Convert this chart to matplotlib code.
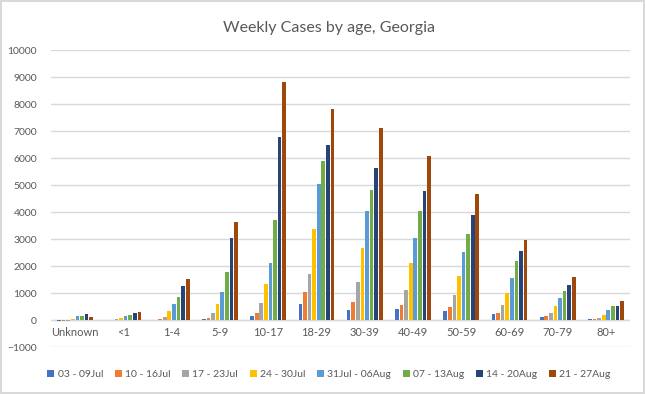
import numpy as np
import matplotlib.pyplot as plt

plt.rcParams['font.family'] = ['Lato', 'DejaVu Sans']

# age groups and weekly series
ages = ['Unknown', '<1', '1-4', '5-9', '10-17', '18-29', '30-39', '40-49', '50-59', '60-69', '70-79', '80+']
weeks = ['03 - 09Jul', '10 - 16Jul', '17 - 23Jul', '24 - 30Jul',
         '31Jul - 06Aug', '07 - 13Aug', '14 - 20Aug', '21 - 27Aug']

wk1 = [-50, 5, 10, 40, 150, 590, 370, 410, 330, 235, 120, 50]
wk2 = [-50, 10, 40, 70, 260, 1040, 670, 560, 480, 270, 160, 50]
wk3 = [-40, 40, 110, 260, 630, 1700, 1410, 1110, 930, 570, 270, 90]
wk4 = [40, 75, 330, 590, 1330, 3370, 2670, 2110, 1630, 1010, 530, 200]
wk5 = [150, 150, 590, 1040, 2110, 5040, 4040, 3040, 2530, 1570, 830, 380]
wk6 = [150, 185, 850, 1780, 3700, 5890, 4810, 4040, 3200, 2200, 1090, 530]
wk7 = [220, 260, 1260, 3040, 6780, 6480, 5630, 4780, 3900, 2570, 1310, 530]
wk8 = [110, 300, 1520, 3630, 8810, 7810, 7110, 6070, 4680, 2975, 1600, 720]

series = [wk1, wk2, wk3, wk4, wk5, wk6, wk7, wk8]
colors = ['#4472C4', '#ED7D31', '#A5A5A5', '#FFC000',
          '#5B9BD5', '#70AD47', '#264478', '#9E480E']

fig = plt.figure(figsize=(6.45, 3.94), dpi=100)
fig.patch.set_edgecolor('#D9D9D9')
fig.patch.set_linewidth(1.5)
ax = fig.add_axes([0.079, 0.119, 0.898, 0.754])

x = np.arange(len(ages))
slot = 0.095
for i, vals in enumerate(series):
    ax.bar(x + (i - 3.5) * slot, vals, width=0.076, color=colors[i],
           label=weeks[i], zorder=3)

ax.set_ylim(-1000, 10000)
ax.set_yticks(range(-1000, 10001, 1000))
ax.set_xlim(-0.5, len(ages) - 0.5)
ax.grid(axis='y', color='#D9D9D9', linewidth=1, zorder=0)
ax.axhline(0, color='#D9D9D9', linewidth=1, zorder=2)
for s in ax.spines.values():
    s.set_visible(False)
ax.tick_params(axis='y', length=0, labelsize=7.5, labelcolor='#595959', pad=10)
ax.set_xticks([])
for xi, lab in zip(x, ages):
    ax.text(xi, -250, lab, ha='center', va='top', fontsize=8, color='#595959')

fig.text(0.51, 0.93, 'Weekly Cases by age, Georgia', ha='center', va='center',
         fontsize=11.5, color='#595959')
fig.legend(loc='center', bbox_to_anchor=(0.51, 0.05), ncol=8, frameon=False,
           fontsize=7.5, handlelength=0.7, handleheight=0.7, handletextpad=0.3,
           columnspacing=1.1, labelcolor='#595959')

fig.savefig('out.png', dpi=100)
